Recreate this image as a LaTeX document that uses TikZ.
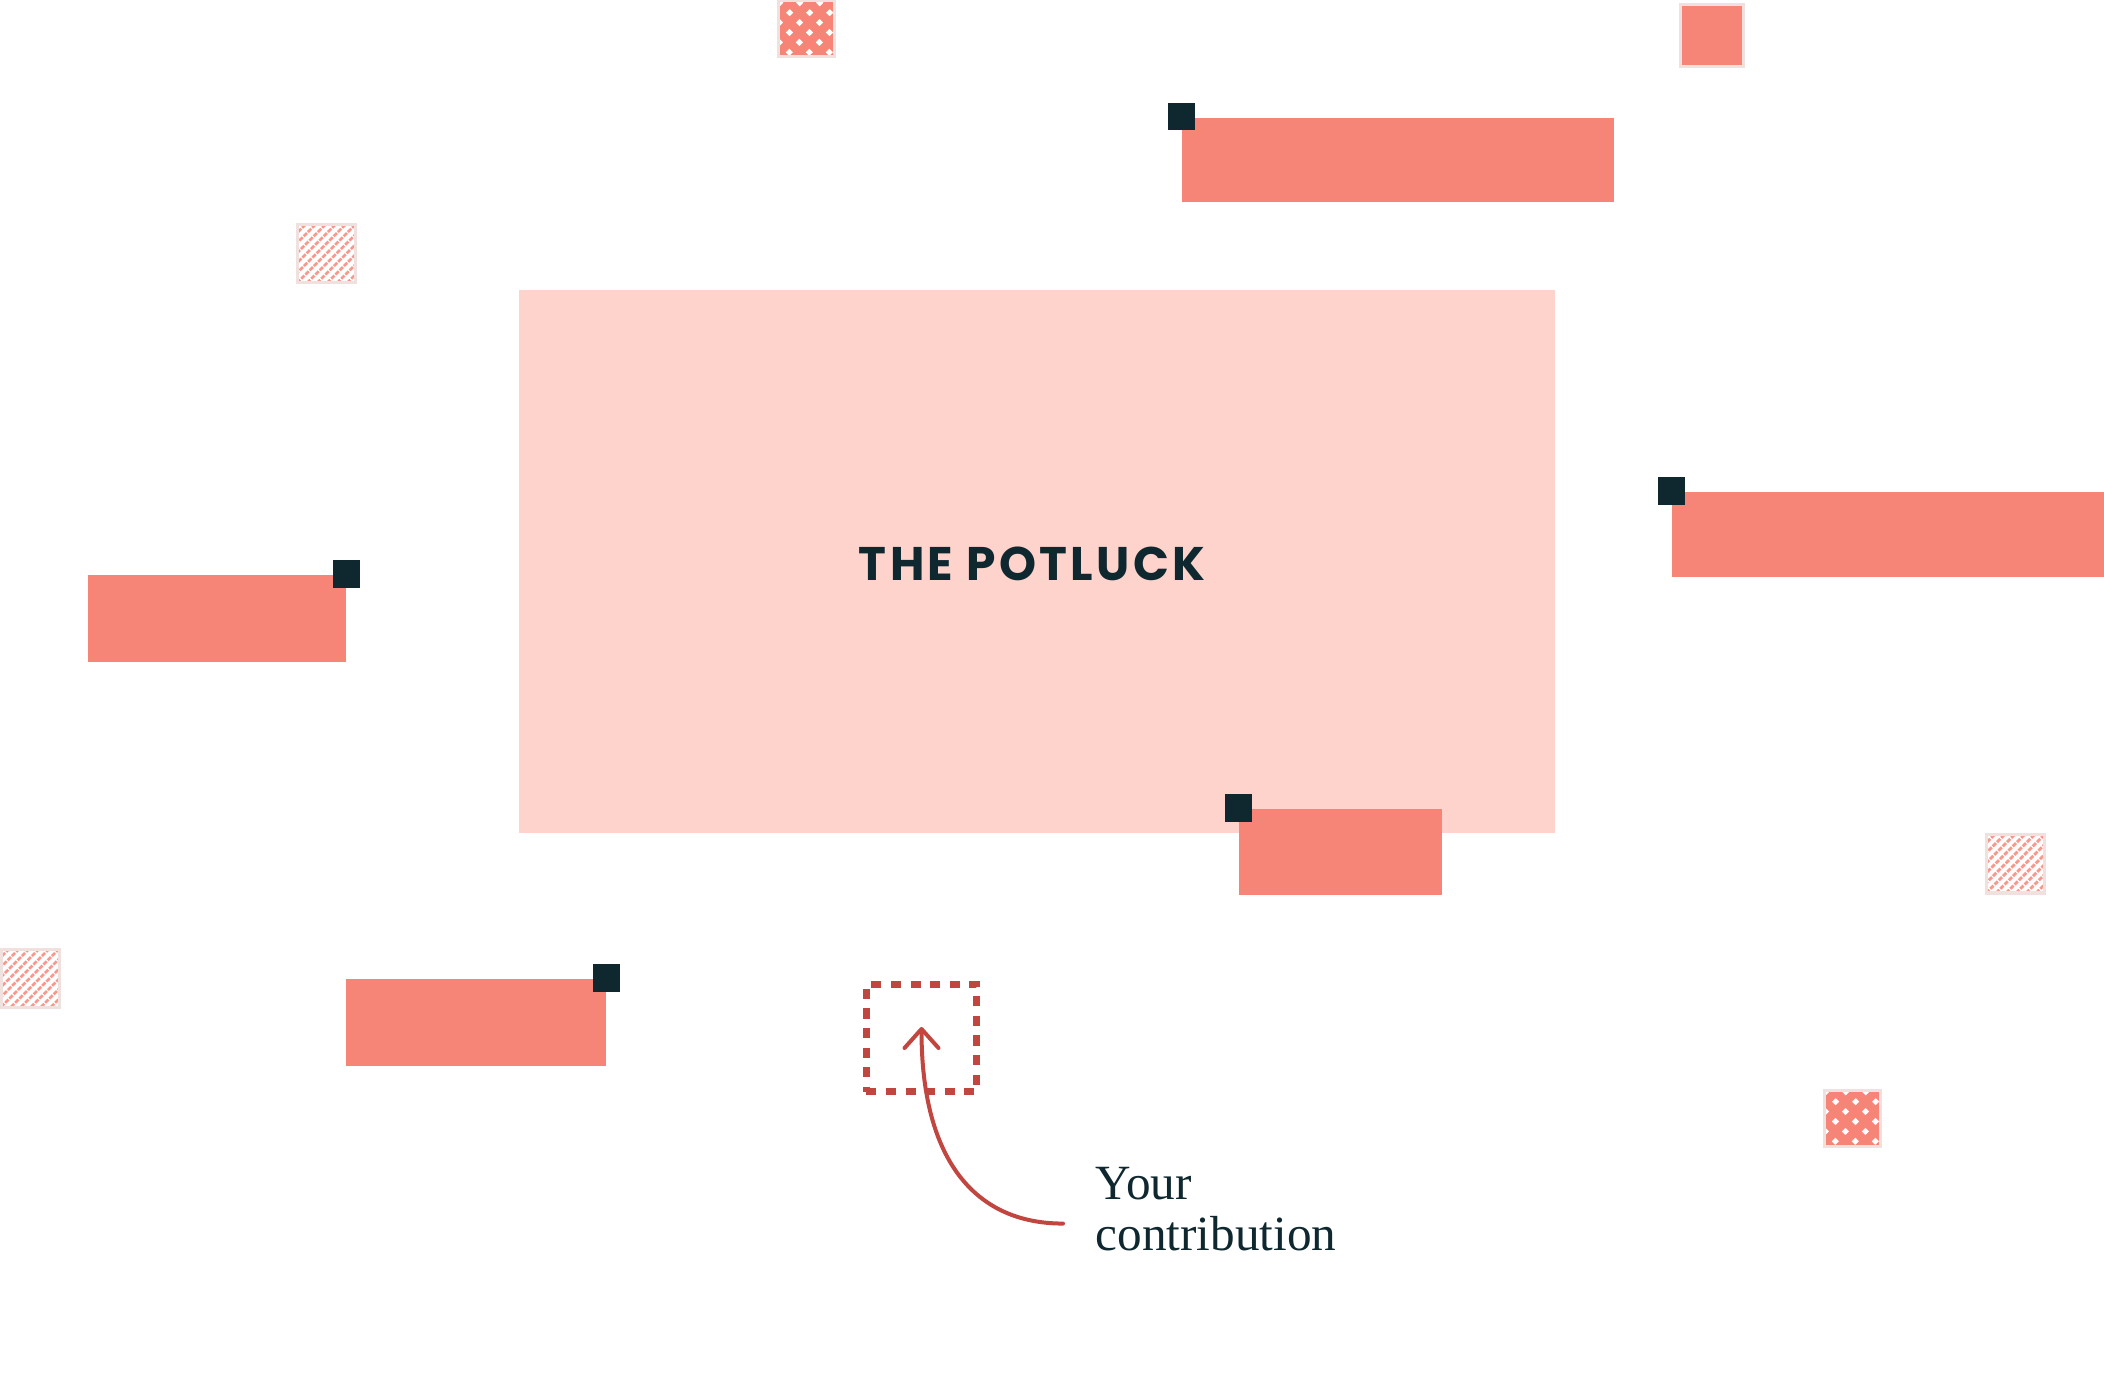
\documentclass[tikz,border=0pt]{standalone}
\usepackage{fontspec}
\setmainfont{Liberation Serif}
\newfontfamily\potfont{Poppins}[LetterSpace=7]
\usetikzlibrary{positioning,arrows.meta}

\definecolor{salmon}{HTML}{F78577}
\definecolor{blush}{HTML}{FDD3CB}
\definecolor{ink}{HTML}{0F2830}
\definecolor{brick}{HTML}{C0463F}
\definecolor{frame}{HTML}{F1E1DE}

\begin{document}
\begin{tikzpicture}[x=0.01cm,y=-0.01cm,
	dish/.style={fill=salmon, inner sep=0pt, anchor=north west, minimum height=0.85cm},
	pin/.style={fill=ink, inner sep=0pt, minimum size=0.27cm},
	]
	\useasboundingbox (0,0) rectangle (2104,1377);
	% table
	\node[fill=blush, inner sep=0pt, minimum width=10.36cm, minimum height=5.43cm] (pot) at (1037,561.5) {};
	\node[text=ink, inner sep=0pt] (title) at (1032,564) {\potfont\bfseries\fontsize{13.4}{16}\selectfont THE POTLUCK};
	% dishes
	\node[dish, minimum width=4.32cm, minimum height=0.84cm] (d1) at (1181,117) {};
	\node[dish, minimum width=4.32cm] (d2) at (1671,491) {};
	\node[dish, minimum width=2.58cm, minimum height=0.87cm] (d3) at (87,574) {};
	\node[dish, minimum width=2.03cm, minimum height=0.86cm] (d4) at (1238,808) {};
	\node[dish, minimum width=2.60cm, minimum height=0.87cm] (d5) at (345,978) {};
	\node[pin] (p1) at (d1.north west) {};
	\node[pin] (p2) at (d2.north west) {};
	\node[pin] (p3) at (d3.north east) {};
	\node[pin] (p4) at (d4.north west) {};
	\node[pin] (p5) at (d5.north east) {};
	% crumbs
	\filldraw[fill=salmon, draw=frame, line width=0.03cm] (1680,5) rectangle (1743,67);
	\foreach \x/\y in {778/1, 1824/1090}
	{
		\begin{scope}
			\clip (\x,\y) rectangle ++(56,56);
			\fill[salmon] (\x,\y) rectangle ++(56,56);
			\foreach \k in {-3,...,3}
				\draw[white, line width=0.05cm, dash pattern=on 0.05cm off 0.09cm] (\x+\k*20,\y) -- ++(70,70);
		\end{scope}
		\draw[frame, line width=0.03cm] (\x,\y) rectangle ++(56,56);
	}
	\foreach \x/\y in {297/225, 1986/835, 1/949}
	{
		\begin{scope}
			\clip (\x,\y) rectangle ++(58,58);
			\fill[white] (\x,\y) rectangle ++(58,58);
			\foreach \k in {-7,...,7}
				\draw[salmon!85, line width=0.028cm, dash pattern=on 0.045cm off 0.015cm] (\x+\k*10,\y+58) -- ++(70,-70);
		\end{scope}
		\draw[frame, line width=0.03cm] (\x,\y) rectangle ++(58,58);
	}
	% your spot
	\node[draw=brick, line width=0.065cm, dash pattern=on 0.1cm off 0.095cm, inner sep=0pt,
		minimum width=1.10cm, minimum height=1.07cm] (slot) at (921.5,1038) {};
	\node[text=ink, inner sep=0pt, anchor=north west, align=left, font=\fontsize{14}{14.5}\selectfont]
		(contrib) at (1095,1167) {Your\\contribution};
	\draw[brick, line width=0.04cm, line cap=round, -{Straight Barb[length=0.19cm, width=0.34cm, round]}]
		([xshift=-0.32cm, yshift=-0.14cm]contrib.west) .. controls +(-88,0) and +(0,133) .. ([yshift=0.11cm]slot.center);
\end{tikzpicture}
\end{document}
